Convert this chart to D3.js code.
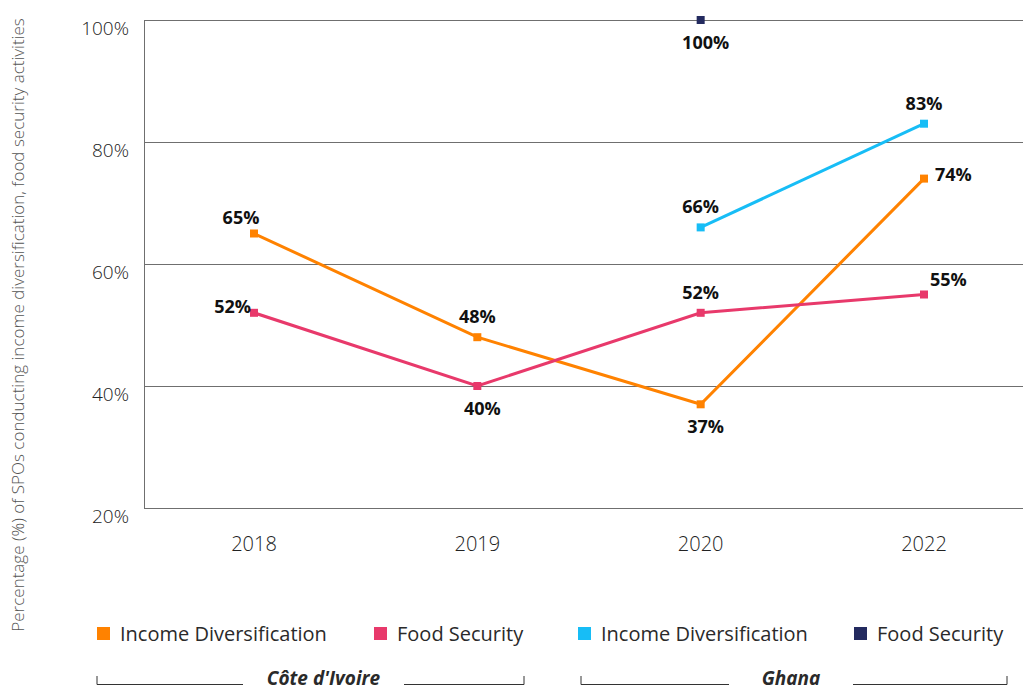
<!DOCTYPE html>
<html>
<head>
  <meta charset="utf-8">
  <title>SPOs conducting income diversification and food security activities</title>
  <script src="https://d3js.org/d3.v7.min.js"></script>
</head>

<style>
body { margin: 0; background: #fff; }
text { font-family: "Open Sans", "Noto Sans", sans-serif; }
.tick-label { font-size: 19px; font-weight: 300; fill: #222; }
.x-label { font-size: 20px; font-weight: 300; fill: #222; }
.value-label { font-size: 18px; font-weight: 700; fill: #111; }
.legend-text { font-size: 20px; fill: #2a2a2a; }
.group-text { font-size: 19px; font-weight: 700; font-style: italic; fill: #2a2a2a; }
.axis-title { font-size: 17px; font-weight: 300; fill: #555; }
</style>

<body>
</body>
<script>

  var years = ['2018', '2019', '2020', '2022'];
  var yTicks = [20, 40, 60, 80, 100];

  // values per year, null where the series has no point
  var civIncome = [65, 48, 37, 74];
  var civFood   = [52, 40, 52, 55];
  var ghaIncome = [null, null, 66, 83];
  var ghaFood   = [null, null, 100, null];

  var seriesNames = ['Income Diversification', 'Food Security', 'Income Diversification', 'Food Security'];
  var seriesColors = ['#ff8200', '#e8396b', '#17bdf6', '#232a5f'];
  var countries = ["Côte d'Ivoire", 'Ghana'];

  // where each value label sits relative to its point
  var labelSide = [
    ['aboveLeft', 'above', 'below', 'right'],
    ['left', 'below', 'above', 'rightAbove'],
    [null, null, 'above', 'above'],
    [null, null, 'below', null]
  ];

  var width = 1023, height = 690;
  var plot = {left: 144, right: 1023, top: 20, bottom: 508};

  var svg = d3.select('body').append('svg')
    .attr('width', width)
    .attr('height', height);

  var xScale = d3.scalePoint()
    .domain(years)
    .range([254, 924]);

  var yScale = d3.scaleLinear()
    .domain([20, 100])
    .range([plot.bottom, plot.top]);

  // gridlines
  svg.append('g')
    .selectAll('line')
    .data(yTicks)
    .enter()
      .append('line')
      .attr('x1', plot.left)
      .attr('x2', plot.right)
      .attr('y1', function(d) { return yScale(d) + 0.5; })
      .attr('y2', function(d) { return yScale(d) + 0.5; })
      .attr('stroke', '#6f6f6f')
      .attr('stroke-width', 1);

  // left axis line
  svg.append('line')
    .attr('x1', plot.left + 0.5).attr('x2', plot.left + 0.5)
    .attr('y1', plot.top).attr('y2', plot.bottom + 1)
    .attr('stroke', '#6f6f6f');

  // y tick labels
  svg.append('g')
    .selectAll('text')
    .data(yTicks)
    .enter()
      .append('text')
      .attr('class', 'tick-label')
      .attr('x', 129)
      .attr('y', function(d) { return yScale(d) + 15; })
      .attr('text-anchor', 'end')
      .text(function(d) { return d + '%'; });

  // x tick labels
  svg.append('g')
    .selectAll('text')
    .data(years)
    .enter()
      .append('text')
      .attr('class', 'x-label')
      .attr('x', function(d) { return xScale(d); })
      .attr('y', 551)
      .attr('text-anchor', 'middle')
      .text(function(d) { return d; });

  // y axis title
  svg.append('text')
    .attr('class', 'axis-title')
    .attr('transform', 'translate(24,' + 325 + ') rotate(-90)')
    .attr('text-anchor', 'middle')
    .text('Percentage (%) of SPOs conducting income diversification, food security activities');

  var allSeries = [civIncome, civFood, ghaIncome, ghaFood];

  var line = d3.line()
    .defined(function(d) { return d.v !== null; })
    .x(function(d) { return xScale(d.year); })
    .y(function(d) { return yScale(d.v); });

  var offsets = {
    above: [0, -14, 'middle'],
    aboveLeft: [-13, -10, 'middle'],
    below: [5, 29, 'middle'],
    left: [-3, 0, 'end'],
    right: [11, 2, 'start'],
    rightAbove: [6, -9, 'start']
  };

  allSeries.forEach(function(values, i) {
    var pts = values.map(function(v, j) { return {year: years[j], v: v, side: labelSide[i][j]}; });
    var g = svg.append('g');

    g.append('path')
      .datum(pts)
      .attr('d', line)
      .attr('fill', 'none')
      .attr('stroke', seriesColors[i])
      .attr('stroke-width', 3);

    var present = pts.filter(function(d) { return d.v !== null; });

    g.selectAll('rect')
      .data(present)
      .enter()
        .append('rect')
        .attr('x', function(d) { return xScale(d.year) - 4; })
        .attr('y', function(d) { return yScale(d.v) - 4; })
        .attr('width', 8)
        .attr('height', 8)
        .attr('fill', seriesColors[i]);

    g.selectAll('text')
      .data(present)
      .enter()
        .append('text')
        .attr('class', 'value-label')
        .attr('x', function(d) { return xScale(d.year) + offsets[d.side][0]; })
        .attr('y', function(d) { return yScale(d.v) + offsets[d.side][1]; })
        .attr('text-anchor', function(d) { return offsets[d.side][2]; })
        .text(function(d) { return d.v + '%'; });
  });

  // legend
  var legendX = [97, 374, 578, 854];
  var legend = svg.append('g')
    .selectAll('g')
    .data(seriesNames)
    .enter()
      .append('g')
      .attr('transform', function(d, i) { return 'translate(' + legendX[i] + ',627)'; });

  legend.append('rect')
    .attr('width', 13).attr('height', 13)
    .attr('fill', function(d, i) { return seriesColors[i]; });

  legend.append('text')
    .attr('class', 'legend-text')
    .attr('x', 23)
    .attr('y', 14)
    .text(function(d) { return d; });

  // country brackets
  var brackets = [[97, 524], [581, 1007]];
  var gap = [[243, 404], [729, 853]];

  brackets.forEach(function(b, i) {
    var g = svg.append('g');
    g.append('path')
      .attr('d', 'M' + b[0] + ',676 V684.5 H' + gap[i][0] + ' M' + gap[i][1] + ',684.5 H' + b[1] + ' V676')
      .attr('fill', 'none')
      .attr('stroke', '#333')
      .attr('stroke-width', 1);
    g.append('text')
      .attr('class', 'group-text')
      .attr('x', (gap[i][0] + gap[i][1]) / 2)
      .attr('y', 685)
      .attr('text-anchor', 'middle')
      .text(countries[i]);
  });

</script>
</html>
